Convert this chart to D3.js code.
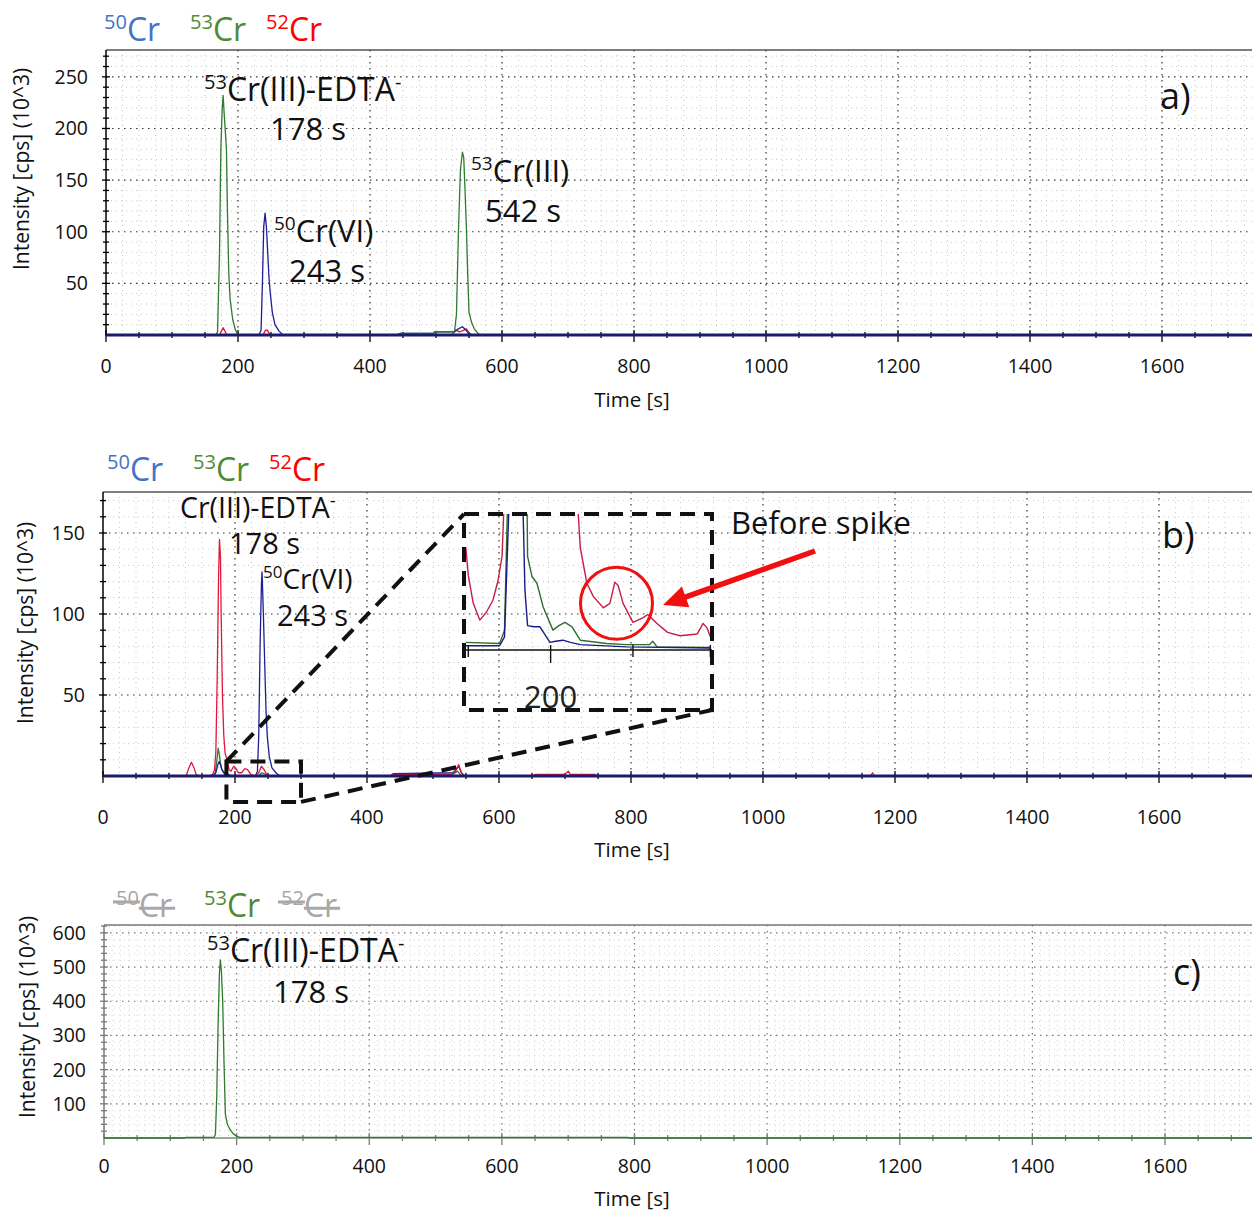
<!DOCTYPE html>
<html>
<head>
<meta charset="utf-8">
<script src="https://cdn.jsdelivr.net/npm/d3@7"></script>
<style>
  body { margin: 0; background: #fff; }
  text { font-family: "Open Sans", sans-serif; }
</style>
</head>
<body>
<svg id="chart" width="1252" height="1212"></svg>
<script>
// ---- values: [time s, intensity 10^3 cps] ----
var timeTicks = [0, 200, 400, 600, 800, 1000, 1200, 1400, 1600];
var yTicksA = [50, 100, 150, 200, 250];
var yTicksB = [50, 100, 150];
var yTicksC = [100, 200, 300, 400, 500, 600];

// a)
var cr50A = [[0,0],[232,0],[235,5],[237,50],[239,105],[241,118],[243,105],[245,80],[247,55],[249,40],[252,22],[256,10],[262,4],[268,0],
  [440,0],[446,1.5],[496,1.5],[498,3],[528,3],[534,6],[540,8],[545,5],[550,1],[555,0],[1740,0]];
var cr53A = [[0,0],[166,0],[169,3],[172,80],[174,180],[176,218],[177.5,232],[179,215],[181,195],[182.5,180],[184,120],[186,60],[188,35],[192,15],[196,5],[200,0],
  [440,0],[446,1.5],[496,1.5],[498,3],[528,3],[531,20],[534,100],[537,160],[540,177],[542,172],[544,140],[546,105],[548,60],[550,22],[554,12],[558,6],[563,2],[567,0],[1740,0]];
var cr52A = [[0,0],[172,0],[175,4],[177.5,7],[180,4],[183,0],[238,0],[241,4],[244,5],[247,2],[250,0],
  [524,0],[530,5],[535,3],[540,4],[546,6],[550,2],[555,0],[1740,0]];

// b)
var cr50B = [[0,0],[168,0],[171,2],[174,7],[176,9],[178,7],[180,4],[183,2],[187,0],[231,0],[234,3],[236,25],[238,80],[240,118],[241,126],[243,100],[245,70],[247,40],[249,24],[252,12],[256,5],[262,2],[268,0],
  [435,0],[440,1.5],[530,2],[535,4],[539,6],[543,2],[548,0],[1740,0]];
var cr53B = [[0,0],[166,0],[170,2],[172,8],[174.5,17],[176,14],[178,8],[180,4],[184,2],[190,1],[196,0],[236,0],[240,2],[244,1.5],[250,0],
  [435,0],[440,1],[530,1],[537,3],[542,0.5],[548,0],[1740,0]];
var cr52B = [[0,0],[126,0],[130,5],[134,8.5],[138,5],[141,1],[145,0],[160,0],[166,1],[169,4],[171,15],[173,60],[175,120],[176.5,146],[178,135],[179,100],[181,50],[183,25],[185,14],[188,10],[191,4],[194,3],[198,6],[201,5],[205,2],[210,2],[215,4.5],[219,4],[224,1],[230,0],[236,2],[240,6],[244,4],[248,1],[254,0],
  [435,0],[440,1],[528,1],[534,3],[539,7],[543,2],[548,0],[650,0],[655,1],[700,1],[705,3],[708,1],[745,1],[750,0],[1163,0],[1166,2],[1169,0],[1740,0]];

// c)
var cr53C = [[0,0],[120,0],[124,2],[166,2],[168,10],[170,120],[172,330],[174,480],[175.5,521],[177,490],[179,400],[181,220],[183,70],[186,40],[190,25],[195,12],[201,4],[206,2],[790,2],[794,0],[1740,0]];

// inset of b) (zoomed window round 200 s)
var insetTicks = [150, 200, 250, 297];
var insetRed = [[148.5,9],[150,6.5],[153,4],[157,2.5],[161,3.2],[165,4.3],[168,6],[170.5,8.2],[172,14],[216,14],[218,9],[222,5.8],[226,4.6],[232,3.6],[236,4],[239,5.9],[241,5.6],[244,4],[250,2.3],[256,2.7],[259,3],[264.6,2.2],[271,1.4],[278.6,1.1],[289,1.25],[292.6,2.2],[295,1.8],[297,1]];
var insetGreen = [[148.5,0.5],[169,0.4],[172,1.6],[174,14],[185.6,14],[186,8.2],[188.7,6.4],[191.7,5.8],[195.4,3.7],[201.4,1.6],[205,2],[208.7,2.3],[213,1.9],[218,0.7],[234,0.4],[246,0.3],[260,0.3],[262,0.6],[264.6,0.1],[297,0.05]];
var insetBlue = [[148.5,0.2],[169,0.2],[172,1],[175,14],[183,14],[184.4,5.2],[186,2],[190,1.9],[193.5,1.9],[199.6,0.5],[203,0.6],[207.5,0.7],[212,0.5],[218,0.3],[246,0.1],[297,0]];

// ---- styles ----
var W = 1252;
var RED = '#e3173a', GREEN = '#2f7a2f', BLUE = '#1e1e96', NAVY = '#1b1b6e';
var LEG_BLUE = '#4472c4', LEG_GREEN = '#4f8a33', LEG_RED = '#ff0000', LEG_GRAY = '#a8a8a8';

var svg = d3.select('#chart');

var panels = [
  {top: 50, base: 335, left: 106, x1600: 1162, yTop: 276, yTicks: yTicksA, yMinor: 10, yMajor: 50, yTickStep: 10, xMinor: 25,
   series: [[cr52A, RED], [cr50A, BLUE], [cr53A, GREEN]], labelY: 373, titleY: 407, yTitleX: 29, yTitleY: 169,
   axisColor: '#000', baseColor: NAVY, baseOnTop: true, gridMajor: '#333', gridMinor: '#aaa'},
  {top: 492, base: 776, left: 103, x1600: 1159, yTop: 175.3, yTicks: yTicksB, yMinor: 10, yMajor: 50, yTickStep: 10, xMinor: 25,
   series: [[cr53B, GREEN], [cr50B, BLUE], [cr52B, RED]], labelY: 824, titleY: 857, yTitleX: 33, yTitleY: 623,
   axisColor: '#000', baseColor: NAVY, baseOnTop: true, gridMajor: '#333', gridMinor: '#aaa'},
  {top: 925, base: 1138, left: 104, x1600: 1165, yTop: 623, yTicks: yTicksC, yMinor: 20, yMajor: 100, yTickStep: 20, xMinor: 12.5,
   series: [[cr53C, GREEN]], labelY: 1173, titleY: 1206, yTitleX: 35, yTitleY: 1017,
   axisColor: '#7a7a7a', baseColor: '#7f887f', baseOnTop: false, gridMajor: '#777', gridMinor: '#bbb'}
];

var scales = panels.map(drawPanel);

function drawPanel(p, i) {
  var x = d3.scaleLinear().domain([0, 1600]).range([p.left, p.x1600]);
  var y = d3.scaleLinear().domain([0, p.yTop]).range([p.base, p.top]);
  var tMax = x.invert(W);
  var g = svg.append('g');

  // grid
  var minorT = d3.range(0, tMax, p.xMinor).filter(function(t) { return t % 200 !== 0; });
  var majorT = d3.range(200, tMax, 200);
  var minorV = d3.range(p.yMinor, p.yTop, p.yMinor).filter(function(v) { return v % p.yMajor !== 0; });
  var majorV = d3.range(p.yMajor, p.yTop, p.yMajor);

  g.selectAll('.vmin').data(minorT).enter().append('line')
    .attr('x1', x).attr('x2', x).attr('y1', p.top).attr('y2', p.base)
    .attr('stroke', p.gridMinor).attr('stroke-width', 1).attr('stroke-dasharray', '1,4').attr('opacity', 0.6);
  g.selectAll('.hmin').data(minorV).enter().append('line')
    .attr('x1', p.left).attr('x2', W).attr('y1', y).attr('y2', y)
    .attr('stroke', p.gridMinor).attr('stroke-width', 1).attr('stroke-dasharray', '1,4').attr('opacity', 0.6);
  g.selectAll('.vmaj').data(majorT).enter().append('line')
    .attr('x1', x).attr('x2', x).attr('y1', p.top).attr('y2', p.base)
    .attr('stroke', p.gridMajor).attr('stroke-width', 1.2).attr('stroke-dasharray', '1.5,4.5');
  g.selectAll('.hmaj').data(majorV).enter().append('line')
    .attr('x1', p.left).attr('x2', W).attr('y1', y).attr('y2', y)
    .attr('stroke', p.gridMajor).attr('stroke-width', 1.2).attr('stroke-dasharray', '1.5,4.5');

  // frame top and left axis
  g.append('line').attr('x1', p.left).attr('x2', W).attr('y1', p.top).attr('y2', p.top)
    .attr('stroke', i === 2 ? '#777' : '#555').attr('stroke-width', 1.5);
  g.append('line').attr('x1', p.left).attr('x2', p.left).attr('y1', p.top).attr('y2', p.base + 1)
    .attr('stroke', p.axisColor).attr('stroke-width', 1.5);

  // y ticks
  var yt = d3.range(p.yTickStep, p.yTop, p.yTickStep);
  g.selectAll('.yt').data(yt).enter().append('line')
    .attr('x1', function(v) { return p.left - (v % p.yMajor === 0 ? 4 : 3); })
    .attr('x2', function(v) { return p.left + (v % p.yMajor === 0 ? 4 : 3); })
    .attr('y1', y).attr('y2', y)
    .attr('stroke', p.axisColor).attr('stroke-width', 1.3);
  g.selectAll('.yl').data(p.yTicks).enter().append('text')
    .attr('x', p.left - 18).attr('y', function(v) { return y(v) + 7; })
    .attr('text-anchor', 'end').style('font-size', '19.5px').attr('fill', '#111')
    .text(function(v) { return v; });

  // x ticks
  var xt = d3.range(0, tMax, 50);
  g.selectAll('.xt').data(xt).enter().append('line')
    .attr('x1', x).attr('x2', x)
    .attr('y1', function(t) { return y(0) - (t % 200 === 0 ? 5 : 3); })
    .attr('y2', function(t) { return y(0) + (t % 200 === 0 ? 7 : 3); })
    .attr('stroke', p.axisColor).attr('stroke-width', 1.3);
  g.selectAll('.xl').data(timeTicks).enter().append('text')
    .attr('x', x).attr('y', p.labelY)
    .attr('text-anchor', 'middle').style('font-size', '19.5px').attr('fill', '#111')
    .text(function(t) { return t; });

  function baseline() {
    g.append('line').attr('x1', p.left).attr('x2', W).attr('y1', y(0)).attr('y2', y(0))
      .attr('stroke', p.baseColor).attr('stroke-width', p.baseOnTop ? 3 : 1.6);
  }
  if (!p.baseOnTop) baseline();

  // traces
  var line = d3.line().x(function(d) { return x(d[0]); }).y(function(d) { return y(d[1]); });
  p.series.forEach(function(s) {
    g.append('path').datum(s[0]).attr('d', line)
      .attr('fill', 'none').attr('stroke', s[1]).attr('stroke-width', 1.3).attr('stroke-linejoin', 'round');
  });
  if (p.baseOnTop) baseline();

  // axis titles
  g.append('text').attr('x', 632).attr('y', p.titleY).attr('text-anchor', 'middle')
    .style('font-size', '20.5px').attr('fill', '#111').text('Time [s]');
  g.append('text').attr('transform', 'translate(' + p.yTitleX + ',' + p.yTitleY + ') rotate(-90)')
    .attr('text-anchor', 'middle').style('font-size', '21px').attr('fill', '#111')
    .text('Intensity [cps] (10^3)');

  return {x: x, y: y, g: g};
}

// isotope label: superscript mass + symbol (+ optional superscript charge)
function isoText(x, y, size, color, mass, body, charge) {
  var t = svg.append('text').attr('x', x).attr('y', y).attr('fill', color).style('font-size', size + 'px');
  var sup = Math.round(size * 0.62);
  var up = Math.round(size * 0.38);
  var parts = {};
  if (mass) {
    parts.mass = t.append('tspan').text(mass).style('font-size', sup + 'px').attr('dy', -up);
    parts.body = t.append('tspan').text(body).attr('dy', up);
  } else {
    parts.body = t.append('tspan').text(body);
  }
  if (charge) t.append('tspan').text(charge).style('font-size', sup + 'px').attr('dy', -up);
  parts.text = t;
  return parts;
}

function strike(parts, x, y, size, color) {
  var mw = parts.mass.node().getComputedTextLength();
  var bw = parts.body.node().getComputedTextLength();
  svg.append('line').attr('x1', x - 3).attr('x2', x + mw + 1).attr('y1', y - size * 0.47).attr('y2', y - size * 0.47)
    .attr('stroke', color).attr('stroke-width', 3);
  svg.append('line').attr('x1', x + mw).attr('x2', x + mw + bw + 3).attr('y1', y - size * 0.27).attr('y2', y - size * 0.27)
    .attr('stroke', color).attr('stroke-width', 3);
}

// legends
[[41, 104, 190, 266], [481, 107, 193, 269]].forEach(function(l) {
  isoText(l[1], l[0], 32, LEG_BLUE, '50', 'Cr');
  isoText(l[2], l[0], 32, LEG_GREEN, '53', 'Cr');
  isoText(l[3], l[0], 32, LEG_RED, '52', 'Cr');
});
var lc50 = isoText(116, 917, 32, LEG_GRAY, '50', 'Cr');
strike(lc50, 116, 917, 32, LEG_GRAY);
isoText(204, 917, 32, LEG_GREEN, '53', 'Cr');
var lc52 = isoText(281, 917, 32, LEG_GRAY, '52', 'Cr');
strike(lc52, 281, 917, 32, LEG_GRAY);

// peak annotations
var INK = '#111';
isoText(204, 101, 32, INK, '53', 'Cr(III)-EDTA', '-');
svg.append('text').attr('x', 270).attr('y', 140).style('font-size', '31px').attr('fill', INK).text('178 s');
isoText(274, 242, 31, INK, '50', 'Cr(VI)');
svg.append('text').attr('x', 289).attr('y', 282).style('font-size', '31px').attr('fill', INK).text('243 s');
isoText(471, 182, 31, INK, '53', 'Cr(III)');
svg.append('text').attr('x', 485).attr('y', 222).style('font-size', '31px').attr('fill', INK).text('542 s');

isoText(180, 518, 28.5, INK, null, 'Cr(III)-EDTA', '-');
svg.append('text').attr('x', 229).attr('y', 554).style('font-size', '29px').attr('fill', INK).text('178 s');
isoText(263, 589, 28, INK, '50', 'Cr(VI)');
svg.append('text').attr('x', 277).attr('y', 626).style('font-size', '29px').attr('fill', INK).text('243 s');

isoText(207, 962, 32, INK, '53', 'Cr(III)-EDTA', '-');
svg.append('text').attr('x', 273).attr('y', 1003).style('font-size', '31px').attr('fill', INK).text('178 s');

// panel letters
svg.append('text').attr('x', 1160).attr('y', 109).style('font-size', '36px').attr('fill', INK).text('a)');
svg.append('text').attr('x', 1162).attr('y', 548).style('font-size', '36px').attr('fill', INK).text('b)');
svg.append('text').attr('x', 1173).attr('y', 985).style('font-size', '36px').attr('fill', INK).text('c)');

// ---- inset in b) ----
var sb = scales[1];
var box = {x0: 464, y0: 514, x1: 712, y1: 710};
var ix = d3.scaleLinear().domain([148, 298]).range([465, 712]);
var iy = d3.scaleLinear().domain([0, 12]).range([648, 514]);
var zoomWin = {t0: 187, t1: 300, v0: -16, v1: 9};

svg.append('clipPath').attr('id', 'insetClip').append('rect')
  .attr('x', box.x0).attr('y', box.y0).attr('width', box.x1 - box.x0).attr('height', 650 - box.y0);

var ig = svg.append('g');
var iline = d3.line().x(function(d) { return ix(d[0]); }).y(function(d) { return iy(d[1]); });
var ic = ig.append('g').attr('clip-path', 'url(#insetClip)');
[[insetRed, '#c81c48'], [insetGreen, '#2f6e2f'], [insetBlue, '#1c1c84']].forEach(function(s) {
  ic.append('path').datum(s[0]).attr('d', iline)
    .attr('fill', 'none').attr('stroke', s[1]).attr('stroke-width', 1.4).attr('stroke-linejoin', 'round');
});
ig.append('line').attr('x1', box.x0).attr('x2', box.x1).attr('y1', iy(0) + 2).attr('y2', iy(0) + 2)
  .attr('stroke', '#111').attr('stroke-width', 1.6);
ig.selectAll('.it').data(insetTicks).enter().append('line')
  .attr('x1', ix).attr('x2', ix)
  .attr('y1', iy(0) - 3)
  .attr('y2', function(t) { return iy(0) + (t === 200 ? 15 : 9); })
  .attr('stroke', '#111').attr('stroke-width', 1.4);
ig.append('text').attr('x', ix(200)).attr('y', 708).attr('text-anchor', 'middle')
  .style('font-size', '31px').attr('fill', '#222').text('200');

// dashed boxes and connectors
var dash = {stroke: '#111', w: 4, d: '15,9'};
svg.append('rect').attr('x', box.x0).attr('y', box.y0).attr('width', box.x1 - box.x0).attr('height', box.y1 - box.y0)
  .attr('fill', 'none').attr('stroke', dash.stroke).attr('stroke-width', dash.w).attr('stroke-dasharray', dash.d);
var zx0 = sb.x(zoomWin.t0), zx1 = sb.x(zoomWin.t1), zy0 = sb.y(zoomWin.v1), zy1 = sb.y(zoomWin.v0);
svg.append('rect').attr('x', zx0).attr('y', zy0).attr('width', zx1 - zx0).attr('height', zy1 - zy0)
  .attr('fill', 'none').attr('stroke', dash.stroke).attr('stroke-width', dash.w).attr('stroke-dasharray', dash.d);
svg.append('line').attr('x1', zx0).attr('y1', zy0).attr('x2', box.x0).attr('y2', box.y0)
  .attr('stroke', dash.stroke).attr('stroke-width', dash.w).attr('stroke-dasharray', dash.d);
svg.append('line').attr('x1', zx1).attr('y1', zy1).attr('x2', box.x1).attr('y2', box.y1)
  .attr('stroke', dash.stroke).attr('stroke-width', dash.w).attr('stroke-dasharray', dash.d);

// "Before spike" highlight
svg.append('circle').attr('cx', ix(240)).attr('cy', iy(4)).attr('r', 36)
  .attr('fill', 'none').attr('stroke', '#ee1111').attr('stroke-width', 3);
var tail = [815, 551], tip = [663, 605];
var dx = tip[0] - tail[0], dy = tip[1] - tail[1], len = Math.sqrt(dx * dx + dy * dy);
var ux = dx / len, uy = dy / len, headL = 24, headW = 11;
svg.append('line').attr('x1', tail[0]).attr('y1', tail[1])
  .attr('x2', tip[0] - ux * headL * 0.8).attr('y2', tip[1] - uy * headL * 0.8)
  .attr('stroke', '#f01010').attr('stroke-width', 5.5);
var bx = tip[0] - ux * headL, by = tip[1] - uy * headL;
svg.append('path')
  .attr('d', 'M' + tip[0] + ',' + tip[1] + 'L' + (bx - uy * headW) + ',' + (by + ux * headW) + 'L' + (bx + uy * headW) + ',' + (by - ux * headW) + 'Z')
  .attr('fill', '#f01010');
svg.append('text').attr('x', 731).attr('y', 534).style('font-size', '31px').attr('fill', INK).text('Before spike');
</script>
</body>
</html>
